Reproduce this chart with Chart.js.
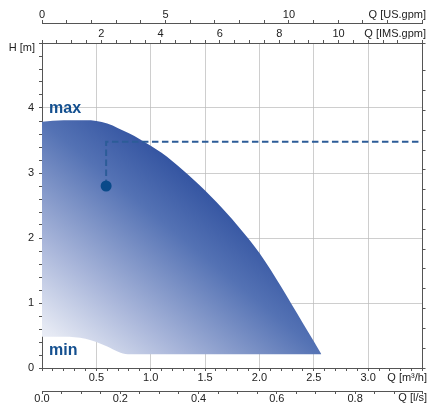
<!DOCTYPE html>
<html>
<head>
<meta charset="utf-8">
<script src="https://cdn.jsdelivr.net/npm/chart.js@4/dist/chart.umd.min.js"></script>
<style>
  html, body { margin: 0; padding: 0; background: #fff; }
  #wrap { width: 428px; height: 408px; position: relative; }
</style>
</head>
<body>
<div id="wrap"><canvas id="chart"></canvas></div>
<script>
// pump curve, Q in m3/h, H in m
var maxQ = [0, 0.2, 0.4, 0.5, 0.6, 0.7, 0.8, 0.9, 1.0, 1.1, 1.2, 1.3, 1.4, 1.5, 1.6, 1.7, 1.8, 1.9, 2.0, 2.1, 2.2, 2.3, 2.4, 2.5, 2.57];
var maxH = [3.79, 3.81, 3.81, 3.80, 3.76, 3.69, 3.61, 3.52, 3.42, 3.31, 3.18, 3.04, 2.89, 2.73, 2.56, 2.38, 2.19, 1.99, 1.77, 1.52, 1.25, 0.97, 0.69, 0.41, 0.21];
var minQ = [0, 0.2, 0.4, 0.5, 0.6, 0.7, 0.79, 2.57];
var minH = [0.48, 0.48, 0.45, 0.40, 0.33, 0.25, 0.21, 0.21];

// duty point and setpoint line
var dutyQ = [0.59];
var dutyH = [2.8];
var setQ = [0.59, 0.59, 3.5];
var setH = [2.8, 3.48, 3.48];

// tick labels
var m3hLabels = [0.5, 1.0, 1.5, 2.0, 2.5, 3.0];
var lsLabels = [0.0, 0.2, 0.4, 0.6, 0.8];
var usLabels = [0, 5, 10];
var imsLabels = [2, 4, 6, 8, 10];
var hLabels = [0, 1, 2, 3, 4];

var Q_MAX = 3.5, H_MAX = 5;
var TO_US = 4.4029, TO_IMS = 3.6661, TO_LS = 1 / 3.6, TO_FT = 3.2808;

var AX = '#555555';
var GRID = 'rgba(185,185,185,0.7)';
var BLUE = '#134f8f';

function pts(xs, ys) {
    return xs.map((x, i) => ({ x: x, y: ys[i] }));
}

function pick(list, v, dec) {
    var hit = list.find(l => Math.abs(l - v) < 1e-6);
    return hit === undefined ? '' : hit.toFixed(dec);
}

function gridOn(step, lo, hi) {
    return ctx => {
        var v = ctx.tick.value;
        var k = Math.round(v / step);
        if (Math.abs(k * step - v) > 1e-6 || v <= lo + 1e-6 || v >= hi - 1e-6) return 'transparent';
        return GRID;
    };
}

function shade(ctx) {
    var chart = ctx.chart;
    if (!chart.chartArea) return '#6f88c4';
    var x0 = chart.scales.x.getPixelForValue(0);
    var y0 = chart.scales.y.getPixelForValue(0);
    var g = chart.ctx.createLinearGradient(x0, y0, x0 + 166, y0 - 200);
    g.addColorStop(0, '#f8f9fc');
    g.addColorStop(0.13, '#e4e8f3');
    g.addColorStop(0.38, '#a9b6da');
    g.addColorStop(0.73, '#5472b4');
    g.addColorStop(1, '#2a4b9b');
    return g;
}

var textPlugin = {
    id: 'texts',
    afterDraw(chart) {
        var c = chart.ctx;
        var sx = chart.scales.x, sy = chart.scales.y;
        c.save();
        c.fillStyle = BLUE;
        c.font = 'bold 16px "Liberation Sans", Arial, sans-serif';
        c.textAlign = 'left';
        c.textBaseline = 'alphabetic';
        c.fillText('max', sx.getPixelForValue(0.065), sy.getPixelForValue(3.92));
        c.fillText('min', sx.getPixelForValue(0.065), sy.getPixelForValue(0.2));

        c.fillStyle = '#222';
        c.font = '11px "Liberation Sans", Arial, sans-serif';
        c.textAlign = 'right';
        c.textBaseline = 'middle';
        c.fillText('Q [US.gpm]', 426, 15);
        c.fillText('Q [IMS.gpm]', 426, 34);
        c.fillText('Q [m\u00b3/h]', 427, 378);
        c.fillText('Q [l/s]', 427, 398);
        c.fillText('H [m]', 35, 48);
        c.restore();
    }
};

var font = { family: '"Liberation Sans", Arial, sans-serif', size: 11 };

var config = {
    type: 'line',
    data: {
        datasets: [
            {
                label: 'duty',
                order: 0,
                data: pts(dutyQ, dutyH),
                showLine: false,
                pointRadius: 5.5,
                pointBackgroundColor: '#0a4a8a',
                pointBorderWidth: 0
            },
            {
                label: 'setpoint',
                order: 1,
                data: pts(setQ, setH),
                borderColor: '#2c5c98',
                borderWidth: 2,
                borderDash: [6.5, 3.5],
                fill: false,
                pointRadius: 0,
                tension: 0
            },
            {
                label: 'max',
                order: 2,
                data: pts(maxQ, maxH),
                borderWidth: 0,
                borderColor: 'transparent',
                backgroundColor: shade,
                fill: '+1',
                pointRadius: 0,
                cubicInterpolationMode: 'monotone'
            },
            {
                label: 'min',
                order: 3,
                data: pts(minQ, minH),
                borderWidth: 0,
                borderColor: 'transparent',
                fill: false,
                pointRadius: 0,
                cubicInterpolationMode: 'monotone'
            }
        ]
    },
    options: {
        responsive: true,
        maintainAspectRatio: false,
        animation: false,
        layout: { padding: 0 },
        plugins: { legend: { display: false }, tooltip: { enabled: false } },
        scales: {
            x: {
                type: 'linear', position: 'bottom', weight: 0, z: 1,
                min: 0, max: Q_MAX,
                ticks: { stepSize: 0.1, autoSkip: false, maxRotation: 0, padding: 0, color: '#222', font: font,
                    callback: v => pick(m3hLabels, v, 1) },
                grid: { color: gridOn(0.5, 0, Q_MAX), tickColor: AX, tickLength: 3 },
                border: { color: AX },
                afterFit: s => { s.height = 23; }
            },
            xl: {
                type: 'linear', position: 'bottom', weight: 1,
                min: 0, max: Q_MAX * TO_LS,
                ticks: { stepSize: 0.05, autoSkip: false, maxRotation: 0, padding: -2, color: '#222', font: font,
                    callback: v => pick(lsLabels, v, 1) },
                grid: { drawOnChartArea: false, tickColor: AX, tickLength: 3 },
                border: { color: AX },
                afterFit: s => { s.height = 17; }
            },
            xi: {
                type: 'linear', position: 'top', weight: 0,
                min: 0, max: Q_MAX * TO_IMS,
                ticks: { stepSize: 0.5, autoSkip: false, maxRotation: 0, padding: -1, color: '#222', font: font,
                    callback: v => pick(imsLabels, v, 0) },
                grid: { drawOnChartArea: false, tickColor: AX, tickLength: 3 },
                border: { color: AX },
                afterFit: s => { s.height = 20; }
            },
            xu: {
                type: 'linear', position: 'top', weight: 1,
                min: 0, max: Q_MAX * TO_US,
                ticks: { stepSize: 1, autoSkip: false, maxRotation: 0, padding: -2, color: '#222', font: font,
                    callback: v => pick(usLabels, v, 0) },
                grid: { drawOnChartArea: false, tickColor: AX, tickLength: 3 },
                border: { color: AX },
                afterFit: s => { s.height = 23; }
            },
            y: {
                type: 'linear', position: 'left', z: 1,
                min: 0, max: H_MAX,
                ticks: { stepSize: 0.2, autoSkip: false, padding: 5, color: '#222', font: font,
                    callback: v => pick(hLabels, v, 0) },
                grid: { color: gridOn(1, 0, H_MAX), tickColor: AX, tickLength: 3 },
                border: { color: AX },
                afterFit: s => { s.width = 42; }
            },
            yf: {
                type: 'linear', position: 'right',
                min: 0, max: H_MAX * TO_FT,
                ticks: { stepSize: 1, autoSkip: false, padding: 0, callback: () => '' },
                grid: { drawOnChartArea: false, tickColor: AX, tickLength: 3 },
                border: { color: AX },
                afterFit: s => { s.width = 3; }
            }
        }
    },
    plugins: [textPlugin]
};

window.onload = () => {
    new Chart(document.getElementById('chart'), config);
};
</script>
</body>
</html>
